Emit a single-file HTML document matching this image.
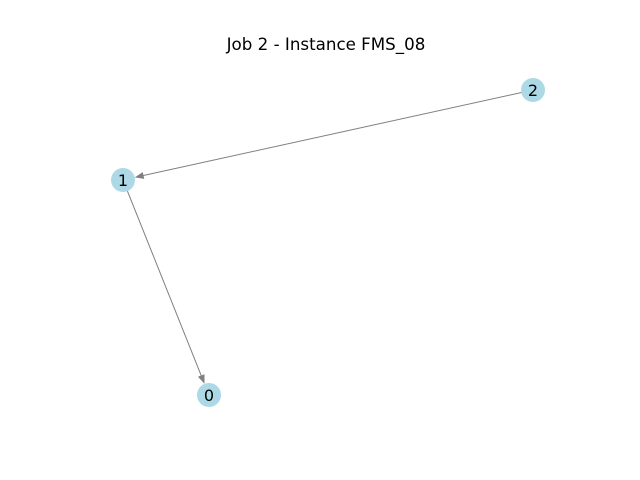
<!DOCTYPE html>
<html><head><meta charset="utf-8"><style>
html,body{margin:0;padding:0;background:#fff;}
svg{display:block;font-family:"DejaVu Sans","Liberation Sans",sans-serif;}
</style></head><body>
<svg id="chart" width="640" height="480" viewBox="0 0 640 480">
<text x="326" y="50" text-anchor="middle" font-size="16.7" fill="#000">Job 2 - Instance FMS_08</text>
<g id="edges"></g><g id="nodes"></g>
</svg>
<script>
const nodeIds = ["0","1","2"];
const nodeX = [0.209, 0.123, 0.533];
const nodeY = [0.395, 0.180, 0.090];
const edgeFrom = ["2","1"];
const edgeTo = ["1","0"];
const sx = v => v * 1000;
const sy = v => v * 1000;
const NS = "http://www.w3.org/2000/svg";
const R = 12;
const eg = document.getElementById("edges"), ng = document.getElementById("nodes");
function pos(id){const i=nodeIds.indexOf(id);return [sx(nodeX[i]),sy(nodeY[i])];}
for(let k=0;k<edgeFrom.length;k++){
  const [x1,y1]=pos(edgeFrom[k]),[x2,y2]=pos(edgeTo[k]);
  const dx=x2-x1,dy=y2-y1,L=Math.hypot(dx,dy),ux=dx/L,uy=dy/L;
  const ex=x2-ux*R,ey=y2-uy*R;
  const line=document.createElementNS(NS,"line");
  
  
  line.setAttribute("x1",x1);line.setAttribute("y1",y1);
  line.setAttribute("x2",ex-ux*6);line.setAttribute("y2",ey-uy*6);
  line.setAttribute("stroke","#808080");line.setAttribute("stroke-width","1");
  eg.appendChild(line);
  const px=-uy,py=ux,bx=ex-ux*9,by=ey-uy*9;
  const head=document.createElementNS(NS,"polygon");
  
  
  head.setAttribute("points",`${ex},${ey} ${bx+px*3.5},${by+py*3.5} ${bx-px*3.5},${by-py*3.5}`);
  head.setAttribute("fill","#808080");
  eg.appendChild(head);
}
for(let i=0;i<nodeIds.length;i++){
  const c=document.createElementNS(NS,"circle");
  
  
  c.setAttribute("cx",sx(nodeX[i]));c.setAttribute("cy",sy(nodeY[i]));
  c.setAttribute("r",R);c.setAttribute("fill","#add8e6");
  ng.appendChild(c);
  const t=document.createElementNS(NS,"text");
  
  
  t.setAttribute("x",sx(nodeX[i]));t.setAttribute("y",sy(nodeY[i])+6);
  t.setAttribute("text-anchor","middle");t.setAttribute("font-size","16");
  t.textContent=nodeIds[i];
  ng.appendChild(t);
}
</script>
</body></html>
